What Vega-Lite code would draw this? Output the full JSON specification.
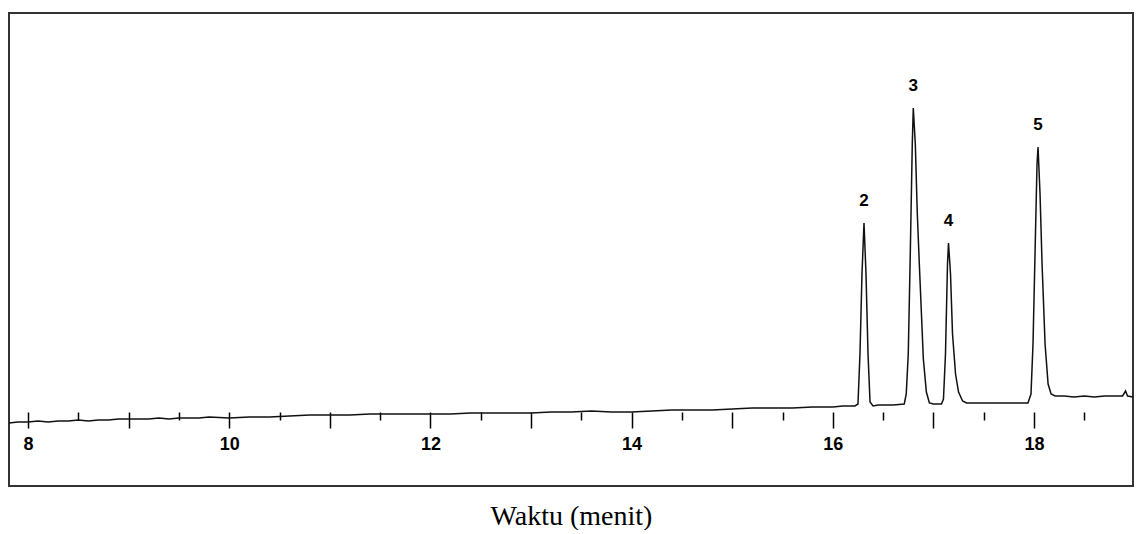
{
  "$schema": "https://vega.github.io/schema/vega-lite/v6.json",
  "width": 1124,
  "height": 473,
  "padding": {"left": 6, "top": 13, "right": 7, "bottom": 0},
  "background": "white",
  "config": {"view": {"stroke": "#333333", "strokeWidth": 2}, "axis": {"grid": false}},
  "datasets": {
    "trace": [
      {"t": 7.811, "signal": -9}, {"t": 7.9, "signal": -8}, {"t": 8.0, "signal": -8}, {"t": 8.1, "signal": -7},
      {"t": 8.2, "signal": -8}, {"t": 8.3, "signal": -7}, {"t": 8.4, "signal": -7}, {"t": 8.5, "signal": -6},
      {"t": 8.6, "signal": -7}, {"t": 8.7, "signal": -6}, {"t": 8.8, "signal": -6}, {"t": 8.9, "signal": -5},
      {"t": 9.0, "signal": -5}, {"t": 9.1, "signal": -5}, {"t": 9.2, "signal": -5}, {"t": 9.3, "signal": -4},
      {"t": 9.4, "signal": -5}, {"t": 9.5, "signal": -4}, {"t": 9.6, "signal": -4}, {"t": 9.7, "signal": -4},
      {"t": 9.8, "signal": -3}, {"t": 10.0, "signal": -4}, {"t": 10.2, "signal": -3}, {"t": 10.4, "signal": -3},
      {"t": 10.6, "signal": -2}, {"t": 10.8, "signal": -1}, {"t": 11.0, "signal": -1}, {"t": 11.2, "signal": -1},
      {"t": 11.4, "signal": 0}, {"t": 11.6, "signal": 0}, {"t": 11.8, "signal": 0}, {"t": 12.0, "signal": 0},
      {"t": 12.2, "signal": 0}, {"t": 12.4, "signal": 1}, {"t": 12.6, "signal": 1}, {"t": 12.8, "signal": 1},
      {"t": 13.0, "signal": 1}, {"t": 13.2, "signal": 2}, {"t": 13.4, "signal": 2}, {"t": 13.6, "signal": 3},
      {"t": 13.8, "signal": 2}, {"t": 14.0, "signal": 2}, {"t": 14.2, "signal": 3}, {"t": 14.4, "signal": 4},
      {"t": 14.6, "signal": 4}, {"t": 14.8, "signal": 4}, {"t": 15.0, "signal": 5}, {"t": 15.2, "signal": 6},
      {"t": 15.4, "signal": 6}, {"t": 15.6, "signal": 6}, {"t": 15.8, "signal": 7}, {"t": 16.0, "signal": 7},
      {"t": 16.1, "signal": 8}, {"t": 16.22, "signal": 8},
      {"t": 16.25, "signal": 10}, {"t": 16.27, "signal": 60}, {"t": 16.29, "signal": 140}, {"t": 16.31, "signal": 191},
      {"t": 16.33, "signal": 140}, {"t": 16.35, "signal": 60}, {"t": 16.37, "signal": 12}, {"t": 16.4, "signal": 8},
      {"t": 16.45, "signal": 9}, {"t": 16.6, "signal": 9}, {"t": 16.71, "signal": 10},
      {"t": 16.73, "signal": 20}, {"t": 16.75, "signal": 60}, {"t": 16.77, "signal": 160}, {"t": 16.79, "signal": 270},
      {"t": 16.8, "signal": 306}, {"t": 16.82, "signal": 270}, {"t": 16.84, "signal": 200}, {"t": 16.86, "signal": 150},
      {"t": 16.9, "signal": 55}, {"t": 16.93, "signal": 22}, {"t": 16.96, "signal": 11}, {"t": 17.0, "signal": 10},
      {"t": 17.05, "signal": 10}, {"t": 17.08, "signal": 10},
      {"t": 17.1, "signal": 15}, {"t": 17.12, "signal": 60}, {"t": 17.14, "signal": 150}, {"t": 17.15, "signal": 171},
      {"t": 17.17, "signal": 140}, {"t": 17.19, "signal": 80}, {"t": 17.22, "signal": 40}, {"t": 17.25, "signal": 22},
      {"t": 17.29, "signal": 13}, {"t": 17.33, "signal": 11}, {"t": 17.5, "signal": 11}, {"t": 17.7, "signal": 11},
      {"t": 17.85, "signal": 11}, {"t": 17.94, "signal": 11},
      {"t": 17.97, "signal": 20}, {"t": 17.99, "signal": 70}, {"t": 18.01, "signal": 160}, {"t": 18.03, "signal": 250},
      {"t": 18.04, "signal": 267}, {"t": 18.06, "signal": 220}, {"t": 18.08, "signal": 150}, {"t": 18.11, "signal": 70},
      {"t": 18.14, "signal": 30}, {"t": 18.17, "signal": 20}, {"t": 18.21, "signal": 18}, {"t": 18.3, "signal": 18},
      {"t": 18.4, "signal": 17}, {"t": 18.5, "signal": 18}, {"t": 18.6, "signal": 17}, {"t": 18.7, "signal": 18},
      {"t": 18.8, "signal": 18}, {"t": 18.88, "signal": 18}, {"t": 18.91, "signal": 23}, {"t": 18.93, "signal": 18},
      {"t": 18.984, "signal": 17}
    ],
    "peaks": [
      {"t": 16.31, "signal": 191, "label": "2"},
      {"t": 16.8, "signal": 306, "label": "3"},
      {"t": 17.15, "signal": 171, "label": "4"},
      {"t": 18.04, "signal": 267, "label": "5"}
    ]
  },
  "layer": [
    {
      "data": {"name": "trace"},
      "mark": {"type": "line", "color": "#111111", "strokeWidth": 1.5},
      "encoding": {
        "x": {
          "field": "t", "type": "quantitative",
          "scale": {"domain": [7.811, 18.984], "nice": false, "zero": false},
          "axis": {
            "orient": "bottom", "offset": -74, "domain": false,
            "values": [8, 9, 10, 11, 12, 13, 14, 15, 16, 17, 18],
            "tickSize": 16, "tickWidth": 1.5, "tickColor": "#000000",
            "labelExpr": "datum.value % 2 === 0 ? datum.label : ''",
            "labelFont": "Liberation Sans", "labelFontWeight": "bold", "labelFontSize": 18,
            "labelColor": "#000000", "labelPadding": 7, "labelOverlap": false, "labelFlush": false,
            "title": "Waktu (menit)", "titleFont": "Liberation Serif", "titleFontWeight": "normal",
            "titleFontSize": 28, "titleColor": "#000000", "titlePadding": 49
          }
        },
        "y": {
          "field": "signal", "type": "quantitative",
          "scale": {"domain": [-72, 401], "nice": false, "zero": false},
          "axis": null
        }
      }
    },
    {
      "data": {"name": "peaks"},
      "mark": {"type": "text", "dy": -22, "font": "Liberation Sans", "fontWeight": "bold", "fontSize": 17, "color": "#000000", "baseline": "middle"},
      "encoding": {
        "x": {
          "field": "t", "type": "quantitative",
          "axis": {
            "orient": "bottom", "offset": -74, "domain": false,
            "values": [8.5, 9.5, 10.5, 11.5, 12.5, 13.5, 14.5, 15.5, 16.5, 17.5, 18.5],
            "tickSize": 8, "tickWidth": 1.5, "tickColor": "#000000",
            "labels": false, "title": null
          }
        },
        "y": {"field": "signal", "type": "quantitative", "axis": null},
        "text": {"field": "label"}
      }
    }
  ],
  "resolve": {"axis": {"x": "independent"}}
}
